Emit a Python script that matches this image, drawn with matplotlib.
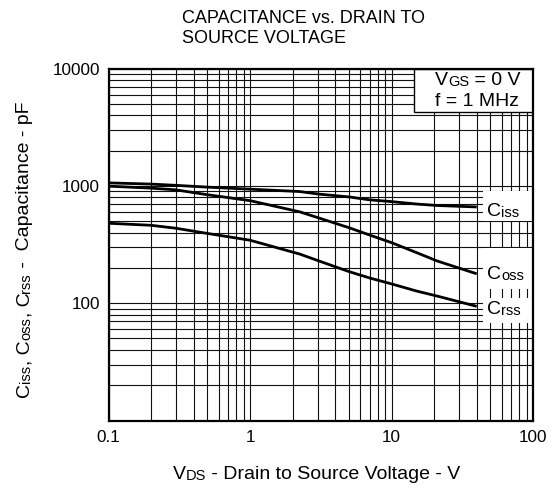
import matplotlib
matplotlib.use("Agg")
import matplotlib.pyplot as plt
from matplotlib.patches import Rectangle
from matplotlib.text import Annotation
from matplotlib.ticker import LogLocator, NullFormatter

plt.rcParams["font.family"] = ["Liberation Sans", "DejaVu Sans"]

# 读图估计值 (V_DS [V], 电容 [pF])
vds = [0.1, 0.2, 0.3, 0.5, 1, 2.25, 3.1, 5, 7, 10, 15, 21, 40]
ciss = [1060, 1035, 1010, 975, 937, 894, 849, 805, 760, 734, 700, 680, 661]
coss = [994, 956, 924, 840, 748, 600, 530, 440, 381, 328, 270, 229, 178]
crss = [480, 461, 435, 393, 344, 262, 228, 186, 164, 146, 127, 115, 94]

xticks = [0.1, 1, 10, 100]
xticklabels = ["0.1", "1", "10", "100"]
yticks = [100, 1000, 10000]
yticklabels = ["100", "1000", "10000"]

BIG = 14
SMALL = 10.5


def chain_text(fig, x, y, pieces, transform, rotation=0, zorder=6):
    """按顺序拼接大小字号文本（下标字母与主字母同基线）"""
    if rotation == 90:
        first = fig.text(x, y, pieces[0][0], fontsize=pieces[0][1], rotation=90,
                         ha="right", va="bottom", transform=transform, zorder=zorder)
    else:
        first = fig.text(x, y, pieces[0][0], fontsize=pieces[0][1],
                         ha="left", va="baseline", transform=transform, zorder=zorder)
    prev = first
    for txt, size in pieces[1:]:
        if rotation == 90:
            a = Annotation(txt, xy=(1, 1), xycoords=prev, fontsize=size,
                           rotation=90, ha="right", va="bottom", zorder=zorder)
        else:
            a = Annotation(txt, xy=(1, 0), xycoords=prev, fontsize=size,
                           ha="left", va="bottom", zorder=zorder)
        fig.add_artist(a)
        prev = a
    return first


fig = plt.figure(figsize=(5.52, 4.88), dpi=100)
ax = fig.add_axes([0.1966, 0.1383, 0.7690, 0.7213])

ax.set_xscale("log")
ax.set_yscale("log")
ax.set_xlim(0.1, 100)
ax.set_ylim(10, 10000)

ax.xaxis.set_minor_locator(LogLocator(base=10, subs=range(2, 10)))
ax.yaxis.set_minor_locator(LogLocator(base=10, subs=range(2, 10)))
ax.xaxis.set_minor_formatter(NullFormatter())
ax.yaxis.set_minor_formatter(NullFormatter())
ax.grid(True, which="both", color="#111111", linewidth=0.8)
ax.set_axisbelow(True)

ax.set_xticks(xticks)
ax.set_xticklabels(xticklabels, fontsize=12.3)
ax.set_yticks(yticks)
ax.set_yticklabels(yticklabels, fontsize=12.3)
ax.tick_params(axis="x", which="both", length=0, pad=7)
ax.tick_params(axis="y", which="both", length=0, pad=6)
for sp in ax.spines.values():
    sp.set_linewidth(1.6)
    sp.set_zorder(7)

for vals in (ciss, coss, crss):
    ax.plot(vds, vals, color="black", linewidth=2.0, zorder=3,
            solid_capstyle="butt", solid_joinstyle="round")

# 曲线名称（白底遮住网格）
label_boxes = [(0.568, 0.653), (0.375, 0.491), (0.278, 0.347)]
label_base = [0.582, 0.4025, 0.303]
label_sub = ["iss", "oss", "rss"]
for (y0, y1), yb, sub in zip(label_boxes, label_base, label_sub):
    ax.add_patch(Rectangle((0.882, y0), 0.118, y1 - y0, transform=ax.transAxes,
                           facecolor="white", edgecolor="none", zorder=4))
    chain_text(fig, 0.892, yb, [("C", BIG), (sub, SMALL)], ax.transAxes)

# 条件框
ax.add_patch(Rectangle((0.7197, 0.876), 0.2803, 0.124, transform=ax.transAxes,
                       facecolor="white", edgecolor="black", linewidth=1.0, zorder=5))
chain_text(fig, 0.769, 0.952, [("V", BIG), ("GS", SMALL), (" = 0 V", BIG)], ax.transAxes)
fig.text(0.769, 0.893, "f = 1 MHz", fontsize=BIG, ha="left", va="baseline",
         transform=ax.transAxes, zorder=6)

# 坐标轴标题
chain_text(fig, 0.3134, 0.0184,
           [("V", BIG), ("DS", SMALL), (" - Drain to Source Voltage - V", BIG)],
           fig.transFigure)
chain_text(fig, 0.0598, 0.1865,
           [("C", BIG), ("iss", SMALL), (", C", BIG), ("oss", SMALL),
            (", C", BIG), ("rss", SMALL), (" -  Capacitance - pF", BIG)],
           fig.transFigure, rotation=90)

fig.text(0.3297, 0.9523, "CAPACITANCE vs. DRAIN TO", fontsize=13,
         ha="left", va="baseline")
fig.text(0.3297, 0.9113, "SOURCE VOLTAGE", fontsize=13, ha="left", va="baseline")

fig.savefig("out.png", dpi=100)
